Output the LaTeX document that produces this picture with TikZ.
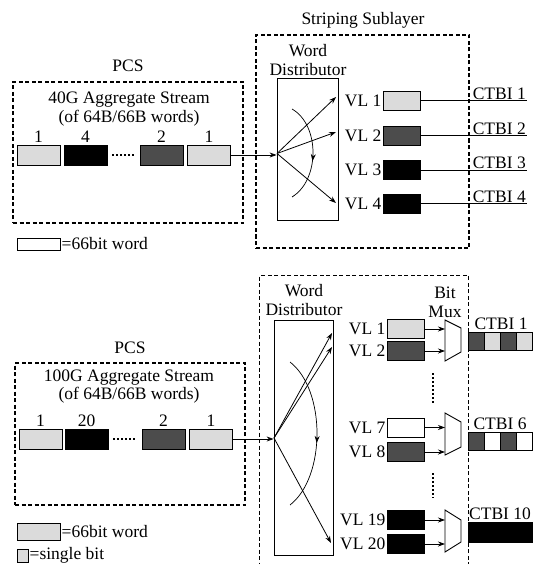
\documentclass[tikz,border=0pt]{standalone}
\usepackage{fontspec}
\setmainfont{Liberation Serif}
\usetikzlibrary{arrows.meta, positioning, decorations.markings}
\definecolor{lightword}{gray}{0.86}
\definecolor{darkword}{gray}{0.30}

\begin{document}
\begin{tikzpicture}[
    x=1pt, y=-1pt,
    >={Stealth[length=7pt, width=5pt]},
    every node/.style={font=\fontsize{17.5}{18.5}\selectfont, inner sep=1pt},
    frame/.style={draw, dash pattern=on 4pt off 2.5pt, line width=1.1pt},
    word/.style={draw, line width=0.9pt, minimum width=43pt, minimum height=20pt, inner sep=0pt},
    lane/.style={draw, line width=0.9pt, minimum width=37pt, minimum height=19pt, inner sep=0pt},
    bit/.style={draw, line width=0.9pt, minimum width=16pt, minimum height=18pt, inner sep=0pt},
    dist/.style={draw, line width=0.8pt},
    link/.style={->, line width=0.8pt},
    midtip/.style={line width=0.7pt, postaction={decorate},
      decoration={markings, mark=at position #1 with {\arrow{>}}}},
    dotrow/.style={line width=1.6pt, dash pattern=on 1.6pt off 2.4pt}
  ]
  \useasboundingbox (0,0) rectangle (537,564);

  % ---- 40G: PCS side
  \node[frame, minimum width=230pt, minimum height=141pt] (pcsA) at (128,152.5) {};
  \node[above=9pt of pcsA] (pcsAlbl) {PCS};
  \node[align=center] (streamA) at (129,109) {40G Aggregate Stream\\(of 64B/66B words)};

  \node[word, fill=lightword] (a1) at (38.5,155) {};
  \node[word, fill=black] (a2) at (85.5,155) {};
  \node[word, fill=darkword] (a3) at (161.5,155) {};
  \node[word, fill=lightword] (a4) at (209,155) {};
  \node[above=1pt of a1] {1};
  \node[above=1pt of a2] {4};
  \node[above=1pt of a3] {2};
  \node[above=1pt of a4] {1};
  \draw[dotrow] ([xshift=5pt]a2.east) -- ([xshift=-5pt]a3.west);

  \node[word, minimum height=12pt, fill=white] (keyA) at (38.5,244) {};
  \node[right=0pt of keyA] {=66bit word};

  % ---- 40G: striping sublayer
  \node[frame, minimum width=213pt, minimum height=213pt] (stripA) at (362.5,141.5) {};
  \node (stripAlbl) at (363,20) {Striping Sublayer};
  \node[align=center] (distAlbl) at (308,60) {Word\\Distributor};
  \node[dist, minimum width=61pt, minimum height=142pt] (distA) at (307.5,149) {};
  \coordinate (srcA) at (277,153.5);
  \coordinate (tA1) at (336,97);
  \coordinate (tA2) at (336,132);
  \coordinate (tA4) at (336,203);

  \draw[link] (a4.east) -- (a4.east -| distA.west);
  \draw[link] (srcA) -- (tA1);
  \draw[link] (srcA) -- (tA2);
  \draw[link] (srcA) -- (tA4);
  \draw[midtip=0.58] (292,109) .. controls (320,125) and (320,180) .. (292,197);

  \node[lane, fill=lightword] (vA1) at (401.5,100.5) {};
  \node[lane, fill=darkword] (vA2) at (401.5,135.5) {};
  \node[lane, fill=black] (vA3) at (401.5,170) {};
  \node[lane, fill=black] (vA4) at (401.5,203.5) {};
  \node[left=0pt of vA1] {VL 1};
  \node[left=0pt of vA2] {VL 2};
  \node[left=0pt of vA3] {VL 3};
  \node[left=0pt of vA4] {VL 4};

  \coordinate (cA1) at (527,100.5);
  \coordinate (cA2) at (527,135.5);
  \coordinate (cA3) at (527,170);
  \coordinate (cA4) at (527,203.5);
  \draw[line width=0.9pt] (vA1) -- (cA1);
  \draw[line width=0.9pt] (vA2) -- (cA2);
  \draw[line width=0.9pt] (vA3) -- (cA3);
  \draw[line width=0.9pt] (vA4) -- (cA4);
  \node[anchor=south east] at (cA1) {CTBI 1};
  \node[anchor=south east] at (cA2) {CTBI 2};
  \node[anchor=south east] at (cA3) {CTBI 3};
  \node[anchor=south east] at (cA4) {CTBI 4};

  % ---- 100G: PCS side
  \node[frame, minimum width=230pt, minimum height=142pt] (pcsB) at (130,434) {};
  \node[above=8pt of pcsB] (pcsBlbl) {PCS};
  \node[align=center] (streamB) at (129,386.5) {100G Aggregate Stream\\(of 64B/66B words)};

  \node[word, fill=lightword] (b1) at (40.5,439) {};
  \node[word, fill=black] (b2) at (86.5,439) {};
  \node[word, fill=darkword] (b3) at (163.5,439) {};
  \node[word, fill=lightword] (b4) at (211,439) {};
  \node[above=1pt of b1] {1};
  \node[above=1pt of b2] {20};
  \node[above=1pt of b3] {2};
  \node[above=1pt of b4] {1};
  \draw[dotrow] ([xshift=5pt]b2.east) -- ([xshift=-5pt]b3.west);

  \node[word, minimum height=17pt, fill=lightword] (keyB) at (38.5,531.5) {};
  \node[right=0pt of keyB] {=66bit word};
  \node[draw, line width=0.9pt, minimum width=11pt, minimum height=13pt, inner sep=0pt,
        fill=lightword] (keyC) at (22.5,555.5) {};
  \node[right=0pt of keyC] {=single bit};

  % ---- 100G: striping sublayer
  \node[frame, minimum width=209pt, minimum height=400pt, anchor=north west] (stripB) at (259,275) {};
  \node[align=center] (distBlbl) at (304,300) {Word\\Distributor};
  \node[dist, minimum width=59pt, minimum height=235pt] (distB) at (303.5,437.5) {};
  \coordinate (srcB) at (274,438);
  \coordinate (tB1) at (332,333);
  \coordinate (tB2) at (332,347);
  \coordinate (tB20) at (331,543);

  \draw[link] (b4.east) -- (b4.east -| distB.west);
  \draw[link] (srcB) -- (tB1);
  \draw[link] (srcB) -- (tB2);
  \draw[link] (srcB) -- (tB20);
  \draw[midtip=0.56] (290,362) .. controls (326,390) and (326,477) .. (290,505);

  \node[lane, fill=lightword] (vB1) at (405.5,329) {};
  \node[lane, fill=darkword] (vB2) at (405.5,351) {};
  \node[lane, fill=white] (vB7) at (405.5,427.5) {};
  \node[lane, fill=darkword] (vB8) at (405.5,452) {};
  \node[lane, fill=black] (vB19) at (405.5,520) {};
  \node[lane, fill=black] (vB20) at (405.5,544) {};
  \node[left=0pt of vB1] {VL 1};
  \node[left=0pt of vB2] {VL 2};
  \node[left=0pt of vB7] {VL 7};
  \node[left=0pt of vB8] {VL 8};
  \node[left=0pt of vB19] {VL 19};
  \node[left=0pt of vB20] {VL 20};
  \draw[dotrow] (433,373) -- (433,403);
  \draw[dotrow] (433,473) -- (433,498);

  \node[align=center] (muxlbl) at (445,302.5) {Bit\\Mux};
  \draw[line width=0.9pt] (445,320) -- (461,328) -- (461,352) -- (445,361) -- cycle;
  \draw[line width=0.9pt] (445,413) -- (461,422) -- (461,447) -- (445,455) -- cycle;
  \draw[line width=0.9pt] (445,510) -- (461,520) -- (461,542) -- (445,552) -- cycle;
  \coordinate (mB1) at (445,329);
  \coordinate (mB2) at (445,351);
  \coordinate (mB7) at (445,427.5);
  \coordinate (mB8) at (445,452);
  \coordinate (mB19) at (445,520);
  \coordinate (mB20) at (445,544);
  \draw[link] (vB1) -- (mB1);
  \draw[link] (vB2) -- (mB2);
  \draw[link] (vB7) -- (mB7);
  \draw[link] (vB8) -- (mB8);
  \draw[link] (vB19) -- (mB19);
  \draw[link] (vB20) -- (mB20);

  % CTBI bit streams
  \node[bit, fill=darkword] (k11) at (476,341) {};
  \node[bit, fill=lightword] (k12) at (492,341) {};
  \node[bit, fill=darkword] (k13) at (508,341) {};
  \node[bit, fill=lightword] (k14) at (524,341) {};
  \node[anchor=south] at (501,331) {CTBI 1};
  \node[bit, fill=darkword] (k61) at (476,441) {};
  \node[bit, fill=white] (k62) at (492,441) {};
  \node[bit, fill=darkword] (k63) at (508,441) {};
  \node[bit, fill=white] (k64) at (524,441) {};
  \node[anchor=south] at (500,431) {CTBI 6};
  \node[draw, line width=0.9pt, fill=black, minimum width=64pt, minimum height=20pt,
        inner sep=0pt] (k10) at (500,532) {};
  \node[anchor=south] at (500,521) {CTBI 10};
\end{tikzpicture}
\end{document}
